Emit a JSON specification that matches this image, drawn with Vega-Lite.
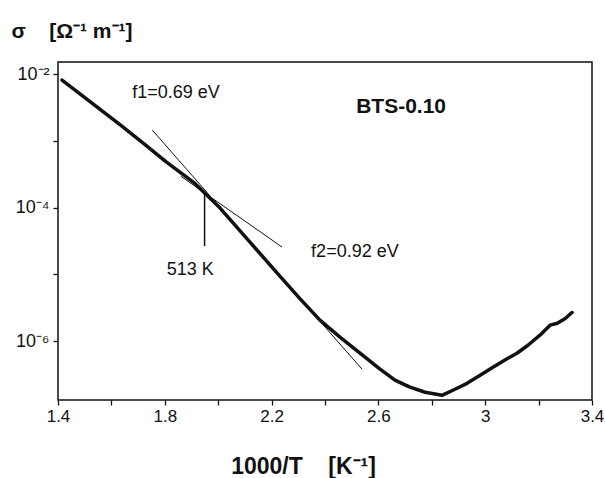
{
  "$schema": "https://vega.github.io/schema/vega-lite/v6.json",
  "width": 534,
  "height": 338,
  "autosize": {"type": "none"},
  "padding": {"left": 58, "top": 62, "right": 13, "bottom": 78},
  "background": "white",
  "config": {
    "view": {"stroke": "#111", "strokeWidth": 1.5},
    "font": "Liberation Sans"
  },
  "datasets": {
    "conductivity": [
      {"x": 1.415, "y": 8.13e-3},
      {"x": 1.520, "y": 3.87e-3},
      {"x": 1.632, "y": 1.75e-3},
      {"x": 1.726, "y": 8.79e-4},
      {"x": 1.804, "y": 4.89e-4},
      {"x": 1.909, "y": 2.37e-4},
      {"x": 2.007, "y": 9.84e-5},
      {"x": 2.119, "y": 3.04e-5},
      {"x": 2.231, "y": 9.42e-6},
      {"x": 2.306, "y": 4.34e-6},
      {"x": 2.381, "y": 2.07e-6},
      {"x": 2.456, "y": 1.15e-6},
      {"x": 2.531, "y": 6.61e-7},
      {"x": 2.606, "y": 3.81e-7},
      {"x": 2.662, "y": 2.61e-7},
      {"x": 2.718, "y": 2.05e-7},
      {"x": 2.775, "y": 1.72e-7},
      {"x": 2.838, "y": 1.55e-7},
      {"x": 2.887, "y": 1.91e-7},
      {"x": 2.932, "y": 2.34e-7},
      {"x": 2.981, "y": 3.09e-7},
      {"x": 3.029, "y": 4.07e-7},
      {"x": 3.074, "y": 5.25e-7},
      {"x": 3.119, "y": 6.61e-7},
      {"x": 3.160, "y": 8.71e-7},
      {"x": 3.205, "y": 1.23e-6},
      {"x": 3.243, "y": 1.74e-6},
      {"x": 3.270, "y": 1.86e-6},
      {"x": 3.300, "y": 2.19e-6},
      {"x": 3.325, "y": 2.69e-6}
    ],
    "fits": [
      {"fit": "f1", "x": 1.86, "y": 2.95e-4},
      {"fit": "f1", "x": 2.239, "y": 2.57e-5},
      {"fit": "f2", "x": 1.753, "y": 1.45e-3},
      {"fit": "f2", "x": 2.539, "y": 3.80e-7}
    ],
    "marker": [
      {"x": 1.949, "y": 1.66e-4, "y2": 2.65e-5}
    ],
    "notes": [
      {"x": 1.842, "y": 5.19e-3, "text": "f1=0.69 eV"},
      {"x": 2.512, "y": 2.15e-5, "text": "f2=0.92 eV"},
      {"x": 1.895, "y": 1.16e-5, "text": "513 K"}
    ],
    "sample": [
      {"x": 2.685, "y": 3.21e-3, "text": "BTS-0.10"}
    ]
  },
  "layer": [
    {
      "data": {"name": "conductivity"},
      "mark": {"type": "line", "color": "#111", "strokeWidth": 3.5, "strokeJoin": "round", "strokeCap": "round"},
      "encoding": {
        "x": {
          "field": "x",
          "type": "quantitative",
          "scale": {"domain": [1.4, 3.4], "nice": false, "zero": false},
          "axis": {
            "title": "1000/T\u00a0\u00a0\u00a0\u00a0[K⁻¹]",
            "values": [1.4, 1.6, 1.8, 2.0, 2.2, 2.4, 2.6, 2.8, 3.0, 3.2, 3.4],
            "labelExpr": "abs((datum.value - 1.4) / 0.4 - round((datum.value - 1.4) / 0.4)) < 0.01 ? format(datum.value, '~g') : ''",
            "labelFlush": false,
            "grid": false,
            "domain": false,
            "tickSize": 5,
            "tickColor": "#111",
            "tickWidth": 1.3,
            "labelFont": "Liberation Sans",
            "labelFontSize": 17,
            "labelColor": "#111",
            "labelPadding": 3,
            "titleFont": "Liberation Sans",
            "titleFontSize": 23,
            "titleFontWeight": "bold",
            "titleColor": "#111",
            "titleX": 245,
            "titleY": 73,
            "titleAlign": "center",
            "titleBaseline": "alphabetic"
          }
        },
        "y": {
          "field": "y",
          "type": "quantitative",
          "scale": {"type": "log", "domain": [1.318e-7, 1.514e-2], "nice": false},
          "axis": {
            "title": "σ\u00a0\u00a0\u00a0\u00a0[Ω⁻¹ m⁻¹]",
            "values": [1e-6, 1e-5, 1e-4, 1e-3, 1e-2],
            "labelExpr": "abs(log(datum.value) / LN10 + 2) < 0.01 ? '10⁻²' : abs(log(datum.value) / LN10 + 4) < 0.01 ? '10⁻⁴' : abs(log(datum.value) / LN10 + 6) < 0.01 ? '10⁻⁶' : ''",
            "grid": false,
            "domain": false,
            "tickSize": 5,
            "tickColor": "#111",
            "tickWidth": 1.3,
            "labelFont": "Liberation Sans",
            "labelFontSize": 18,
            "labelColor": "#111",
            "labelPadding": 4,
            "titleFont": "Liberation Sans",
            "titleFontSize": 21,
            "titleFontWeight": "bold",
            "titleColor": "#111",
            "titleAngle": 0,
            "titleAlign": "left",
            "titleBaseline": "alphabetic",
            "titleX": -47,
            "titleY": -25
          }
        }
      }
    },
    {
      "data": {"name": "fits"},
      "mark": {"type": "line", "color": "#111", "strokeWidth": 1},
      "encoding": {
        "x": {"field": "x", "type": "quantitative"},
        "y": {"field": "y", "type": "quantitative"},
        "detail": {"field": "fit"}
      }
    },
    {
      "data": {"name": "marker"},
      "mark": {"type": "rule", "color": "#111", "strokeWidth": 1.5},
      "encoding": {
        "x": {"field": "x", "type": "quantitative"},
        "y": {"field": "y", "type": "quantitative"},
        "y2": {"field": "y2"}
      }
    },
    {
      "data": {"name": "notes"},
      "mark": {"type": "text", "font": "Liberation Sans", "fontSize": 18, "color": "#111", "align": "center", "baseline": "middle"},
      "encoding": {
        "x": {"field": "x", "type": "quantitative"},
        "y": {"field": "y", "type": "quantitative"},
        "text": {"field": "text"}
      }
    },
    {
      "data": {"name": "sample"},
      "mark": {"type": "text", "font": "Liberation Sans", "fontSize": 21, "fontWeight": "bold", "color": "#111", "align": "center", "baseline": "middle"},
      "encoding": {
        "x": {"field": "x", "type": "quantitative"},
        "y": {"field": "y", "type": "quantitative"},
        "text": {"field": "text"}
      }
    }
  ]
}
